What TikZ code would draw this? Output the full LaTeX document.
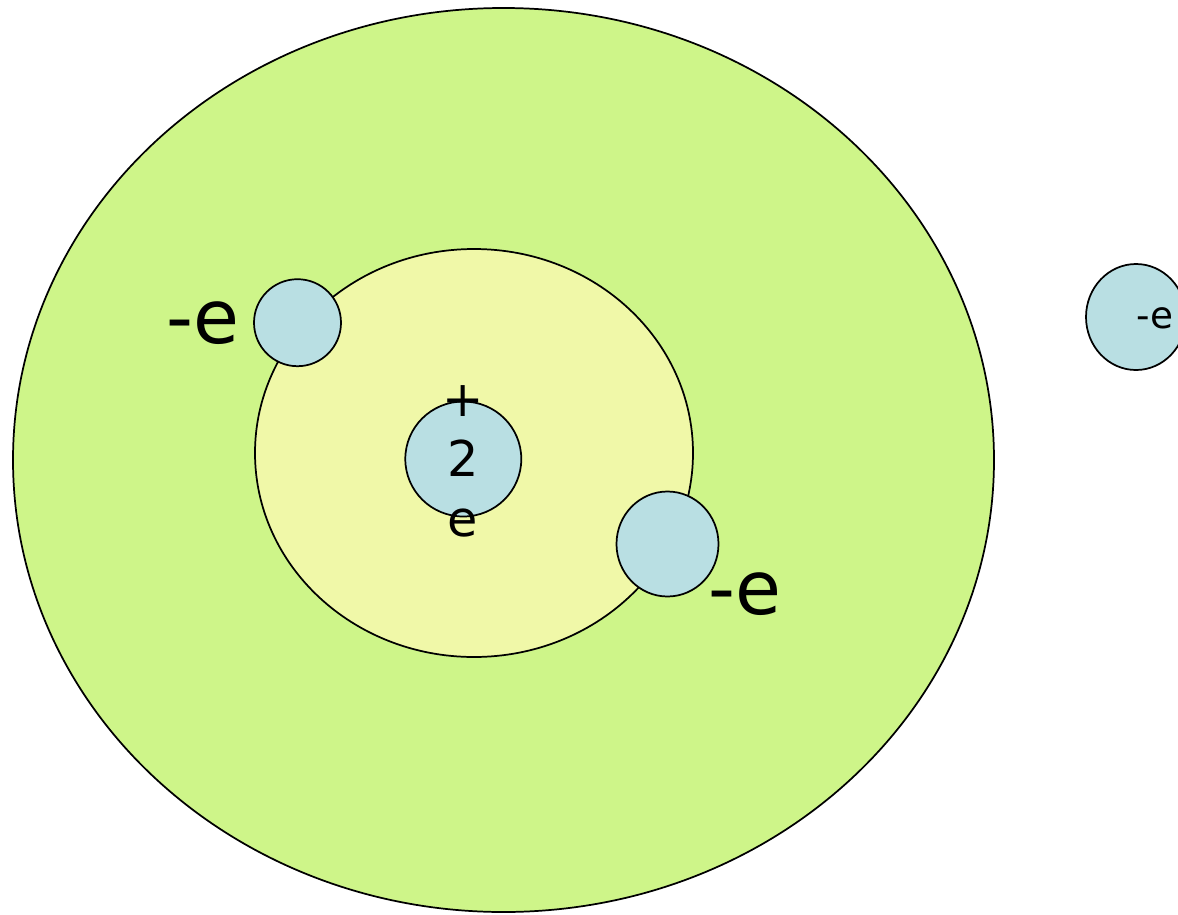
\documentclass[tikz,border=0pt]{standalone}
\usepackage{fontspec}
\setmainfont{DejaVu Sans}
\usetikzlibrary{shapes.geometric}
\definecolor{outerg}{HTML}{CEF589}
\definecolor{innery}{HTML}{F0F8A8}
\definecolor{blueb}{HTML}{B9DFE3}
\begin{document}
\begin{tikzpicture}[x=0.75pt,y=-0.75pt,
  shell/.style={ellipse,draw=black,line width=1.3pt,inner sep=0pt},
  particle/.style={ellipse,draw=black,line width=1.3pt,fill=blueb,inner sep=0pt},
  biglabel/.style={font=\fontsize{56}{60}\selectfont,inner sep=0pt}]
\useasboundingbox (0,0) rectangle (1178,914);
\clip (0,0) rectangle (1178,914);
\node[shell,fill=outerg,minimum width=981*0.75pt,minimum height=904*0.75pt] (outer) at (503.5,460) {};
\node[shell,fill=innery,minimum width=438*0.75pt,minimum height=408*0.75pt] (inner) at (474,453) {};
\node[particle,minimum width=87*0.75pt,minimum height=87*0.75pt] (e1) at (297.5,322.7) {};
\node[particle,minimum width=102*0.75pt,minimum height=105*0.75pt] (e2) at (667.5,544) {};
\node[particle,minimum width=100*0.75pt,minimum height=106*0.75pt] (e3) at (1136,317) {};
\node[particle,minimum width=116*0.75pt,minimum height=115*0.75pt] (nuc) at (463.3,459) {};
\node[biglabel] (l1) at (203,323) {-e};
\node[biglabel] (l2) at (745,594) {-e};
\node[font=\fontsize{28}{30}\selectfont,inner sep=0pt] (l3) at (1155,318) {-e};
\node[font=\fontsize{37}{45}\selectfont,align=center,inner sep=0pt] (nl) at (463,461) {+\\2\\e};
\end{tikzpicture}
\end{document}
